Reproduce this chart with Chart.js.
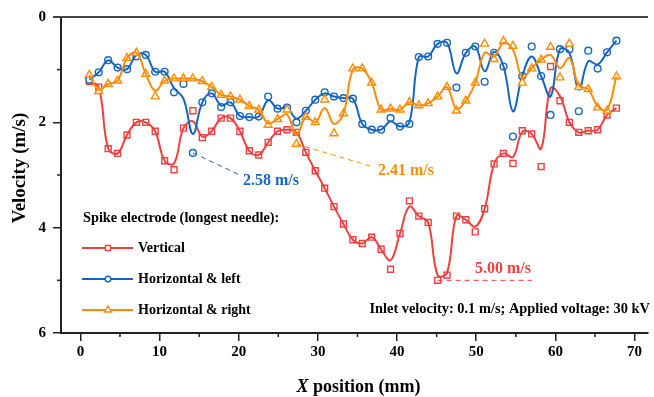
<!DOCTYPE html>
<html>
<head>
<meta charset="utf-8">
<script src="https://cdn.jsdelivr.net/npm/chart.js@4.4.0/dist/chart.umd.min.js"></script>
<style>
  html, body { margin: 0; padding: 0; background: #fff; }
</style>
</head>
<body>
<canvas id="myChart" width="654" height="397"></canvas>
<script>
// posiciones de medida (mm)
const posiciones = [1.13, 2.32, 3.51, 4.70, 5.89, 7.08, 8.26, 9.45, 10.64, 11.83, 13.02, 14.21, 15.40, 16.59, 17.78, 18.97, 20.15, 21.34, 22.53, 23.72, 24.91, 26.10, 27.29, 28.48, 29.67, 30.86, 32.04, 33.23, 34.42, 35.61, 36.80, 37.99, 39.18, 40.37, 41.56, 42.75, 43.93, 45.12, 46.31, 47.50, 48.69, 49.88, 51.07, 52.26, 53.45, 54.64, 55.82, 57.01, 58.20, 59.39, 60.58, 61.77, 62.96, 64.15, 65.34, 66.53, 67.71];

// velocidades medidas (m/s)
const vertical = [1.22, 1.33, 2.50, 2.59, 2.24, 2.00, 2.00, 2.17, 2.73, 2.90, 2.11, 1.78, 2.29, 2.17, 1.92, 1.92, 2.17, 2.54, 2.62, 2.38, 2.17, 2.14, 2.19, 2.57, 2.92, 3.25, 3.60, 3.93, 4.23, 4.30, 4.18, 4.41, 4.79, 4.11, 3.49, 3.78, 3.90, 5.00, 4.90, 3.78, 3.85, 4.08, 3.64, 2.79, 2.59, 2.78, 2.16, 2.22, 2.84, 0.94, 1.59, 2.00, 2.19, 2.16, 2.14, 1.86, 1.73];
const horizIzq = [1.19, 1.05, 0.82, 0.96, 0.99, 0.75, 0.72, 1.04, 1.04, 1.43, 1.27, 2.58, 1.62, 1.45, 1.71, 1.62, 1.88, 1.90, 1.89, 1.51, 1.74, 1.72, 2.00, 1.78, 1.57, 1.43, 1.51, 1.54, 1.55, 2.03, 2.14, 2.14, 1.92, 2.08, 2.03, 0.76, 0.75, 0.51, 0.49, 1.34, 0.68, 0.56, 1.23, 0.68, 0.94, 2.27, 1.12, 0.56, 1.12, 1.86, 0.61, 0.61, 1.79, 0.64, 0.98, 0.67, 0.45];
const horizDer = [1.10, 1.41, 1.27, 1.21, 0.78, 0.68, 1.08, 1.51, 1.21, 1.17, 1.17, 1.17, 1.22, 1.33, 1.48, 1.51, 1.57, 1.69, 1.76, 2.05, 1.94, 1.76, 2.41, 1.90, 2.00, 1.57, 2.21, 1.83, 0.98, 0.98, 1.25, 1.76, 1.74, 1.76, 1.62, 1.68, 1.64, 1.51, 1.33, 1.78, 1.59, 1.25, 0.51, 0.80, 0.46, 0.55, 1.25, 0.98, 0.81, 0.57, 1.15, 0.51, 1.33, 1.37, 1.72, 1.78, 1.13];

// curvas suavizadas (m/s)
const curvaVertical = [1.22, 1.33, 2.50, 2.59, 2.24, 2.00, 2.00, 2.17, 2.73, 2.78, 2.11, 1.98, 2.27, 2.17, 1.92, 1.92, 2.17, 2.54, 2.62, 2.38, 2.17, 2.14, 2.19, 2.57, 2.92, 3.25, 3.60, 3.93, 4.23, 4.30, 4.18, 4.41, 4.62, 4.11, 3.60, 3.78, 3.90, 4.90, 4.86, 3.78, 3.85, 3.98, 3.64, 2.79, 2.59, 2.66, 2.18, 2.22, 2.50, 1.35, 1.50, 2.00, 2.19, 2.16, 2.14, 1.86, 1.73];
const curvaIzq = [1.19, 1.05, 0.82, 0.96, 0.99, 0.72, 0.72, 1.04, 1.04, 1.35, 1.55, 2.22, 1.62, 1.45, 1.68, 1.62, 1.88, 1.90, 1.89, 1.58, 1.74, 1.72, 1.93, 1.78, 1.57, 1.45, 1.51, 1.54, 1.55, 2.03, 2.14, 2.14, 1.98, 2.08, 2.00, 0.76, 0.75, 0.51, 0.49, 1.07, 0.68, 0.56, 1.03, 0.66, 0.94, 1.79, 1.12, 0.75, 1.12, 1.51, 0.61, 0.68, 1.38, 0.84, 0.90, 0.67, 0.45];
const curvaDer = [1.10, 1.38, 1.27, 1.21, 0.78, 0.68, 1.08, 1.40, 1.21, 1.17, 1.17, 1.17, 1.22, 1.33, 1.48, 1.51, 1.57, 1.69, 1.76, 2.02, 1.94, 1.85, 2.24, 1.90, 2.00, 1.73, 2.03, 1.83, 1.00, 0.98, 1.25, 1.76, 1.74, 1.76, 1.62, 1.68, 1.64, 1.51, 1.33, 1.74, 1.59, 1.25, 0.68, 0.75, 0.49, 0.62, 1.15, 0.97, 0.81, 0.72, 0.97, 0.78, 1.30, 1.37, 1.69, 1.76, 1.13];

const ticksX = [0, 10, 20, 30, 40, 50, 60, 70];
const ticksY = [0, 2, 4, 6];
const menoresX = [5, 15, 25, 35, 45, 55, 65];
const menoresY = [1, 3, 5];

const ROJO = '#EF3F3F';
const AZUL = '#1565C0';
const NARANJA = '#FF8C00';
const SERIF = '"Liberation Serif", "Times New Roman", serif';

const series = [
    { label: 'Vertical', data: vertical, curva: curvaVertical, color: ROJO, style: 'rect', radius: 4.2 },
    { label: 'Horizontal & left', data: horizIzq, curva: curvaIzq, color: AZUL, style: 'circle', radius: 3.4 },
    { label: 'Horizontal & right', data: horizDer, curva: curvaDer, color: NARANJA, style: 'triangle', radius: 4.6 }
];

const datasets = [];
series.slice().reverse().forEach(s => {
    datasets.push({
        label: s.label + ' (curva)',
        data: posiciones.map((x, i) => ({ x: x, y: s.curva[i] })),
        borderColor: s.color,
        borderWidth: 2,
        tension: 0.4,
        pointRadius: 0
    });
    datasets.push({
        label: s.label,
        data: posiciones.map((x, i) => ({ x: x, y: s.data[i] })),
        showLine: false,
        pointStyle: s.style,
        pointRadius: s.radius,
        pointBorderWidth: 1.4,
        pointBackgroundColor: '#fff',
        pointBorderColor: s.color
    });
});

// anotaciones, leyenda y detalles del marco
const extras = {
    id: 'extras',
    afterDraw(chart) {
        const ctx = chart.ctx;
        const xs = chart.scales.x, ys = chart.scales.y;
        const area = chart.chartArea;
        ctx.save();

        // linea superior del marco
        ctx.strokeStyle = '#444';
        ctx.lineWidth = 2;
        ctx.beginPath();
        ctx.moveTo(area.left - 8, area.top);
        ctx.lineTo(area.right, area.top);
        ctx.stroke();

        // ticks menores
        ctx.strokeStyle = '#222';
        ctx.lineWidth = 1.5;
        menoresX.forEach(v => {
            const px = xs.getPixelForValue(v);
            ctx.beginPath();
            ctx.moveTo(px, area.bottom);
            ctx.lineTo(px, area.bottom + 4);
            ctx.stroke();
        });
        menoresY.forEach(v => {
            const py = ys.getPixelForValue(v);
            ctx.beginPath();
            ctx.moveTo(area.left, py);
            ctx.lineTo(area.left - 4, py);
            ctx.stroke();
        });

        // titulos de ejes
        ctx.fillStyle = '#000';
        ctx.textBaseline = 'alphabetic';
        const cx = (area.left + area.right) / 2 + 4;
        ctx.font = 'italic bold 18px ' + SERIF;
        const wX = ctx.measureText('X').width;
        ctx.font = 'bold 18px ' + SERIF;
        const wResto = ctx.measureText(' position (mm)').width;
        const x0 = cx - (wX + wResto) / 2;
        ctx.textAlign = 'left';
        ctx.font = 'italic bold 18px ' + SERIF;
        ctx.fillText('X', x0, 392);
        ctx.font = 'bold 18px ' + SERIF;
        ctx.fillText(' position (mm)', x0 + wX, 392);

        ctx.save();
        ctx.translate(25, 168);
        ctx.rotate(-Math.PI / 2);
        ctx.textAlign = 'center';
        ctx.font = 'bold 19px ' + SERIF;
        ctx.fillText('Velocity (m/s)', 0, 0);
        ctx.restore();

        // leyenda
        ctx.textAlign = 'left';
        ctx.textBaseline = 'middle';
        ctx.font = 'bold 14.3px ' + SERIF;
        ctx.fillText('Spike electrode (longest needle):', 83, 218);
        series.forEach((s, i) => {
            const y = 248 + i * 31;
            ctx.strokeStyle = s.color;
            ctx.lineWidth = 2;
            ctx.beginPath();
            ctx.moveTo(82, y);
            ctx.lineTo(133, y);
            ctx.stroke();
            ctx.fillStyle = '#fff';
            ctx.lineWidth = 1.4;
            Chart.helpers.drawPoint(ctx, { pointStyle: s.style, radius: s.radius - 0.6, rotation: 0, borderWidth: 1.4 }, 108, y);
            ctx.fillStyle = '#000';
            ctx.font = 'bold 14px ' + SERIF;
            ctx.fillText(s.label, 138, y);
        });

        // nota de condiciones
        ctx.textAlign = 'right';
        ctx.font = 'bold 14.4px ' + SERIF;
        ctx.fillText('Inlet velocity: 0.1 m/s; Applied voltage: 30 kV', 650, 309);

        // anotaciones de picos
        ctx.setLineDash([5, 4]);
        ctx.lineWidth = 1;
        ctx.strokeStyle = AZUL;
        ctx.beginPath();
        ctx.moveTo(xs.getPixelForValue(posiciones[11]), ys.getPixelForValue(horizIzq[11]));
        ctx.lineTo(xs.getPixelForValue(20), ys.getPixelForValue(2.99));
        ctx.stroke();
        ctx.strokeStyle = NARANJA;
        ctx.beginPath();
        ctx.moveTo(xs.getPixelForValue(posiciones[22]), ys.getPixelForValue(horizDer[22]));
        ctx.lineTo(xs.getPixelForValue(36.6), ys.getPixelForValue(2.83));
        ctx.stroke();
        ctx.strokeStyle = ROJO;
        ctx.beginPath();
        ctx.moveTo(xs.getPixelForValue(posiciones[37]), ys.getPixelForValue(vertical[37]));
        ctx.lineTo(xs.getPixelForValue(57), ys.getPixelForValue(vertical[37]));
        ctx.stroke();
        ctx.setLineDash([]);

        ctx.font = 'bold 16px ' + SERIF;
        ctx.textAlign = 'left';
        ctx.fillStyle = AZUL;
        ctx.fillText('2.58 m/s', 243, 181);
        ctx.fillStyle = NARANJA;
        ctx.fillText('2.41 m/s', 378, 171);
        ctx.fillStyle = ROJO;
        ctx.fillText('5.00 m/s', 475, 269);
        ctx.restore();
    }
};

const fuenteTicks = { family: SERIF, size: 15, weight: 'bold' };

const myChart = new Chart(document.getElementById('myChart'), {
    type: 'line',
    data: { datasets: datasets },
    options: {
        responsive: false,
        animation: false,
        layout: { padding: { top: 17, right: 0, left: 0, bottom: 0 } },
        plugins: { legend: { display: false }, tooltip: { enabled: false } },
        scales: {
            x: {
                type: 'linear',
                min: -2.45,
                max: 71.7,
                afterBuildTicks: s => { s.ticks = ticksX.map(v => ({ value: v })); },
                afterFit: s => { s.height = 64; },
                ticks: { color: '#000', font: fuenteTicks, padding: 2, maxRotation: 0, autoSkip: false },
                grid: { drawOnChartArea: false, tickLength: 8, color: '#222', lineWidth: 1.5 },
                border: { display: true, color: '#222', width: 2 }
            },
            y: {
                reverse: true,
                min: 0,
                max: 6,
                afterBuildTicks: s => { s.ticks = ticksY.map(v => ({ value: v })); },
                afterFit: s => { s.width = 61; },
                ticks: { color: '#000', font: fuenteTicks, padding: 7 },
                grid: { drawOnChartArea: false, tickLength: 8, color: '#222', lineWidth: 1.5 },
                border: { display: true, color: '#222', width: 2 }
            }
        }
    },
    plugins: [extras]
});
</script>
</body>
</html>
